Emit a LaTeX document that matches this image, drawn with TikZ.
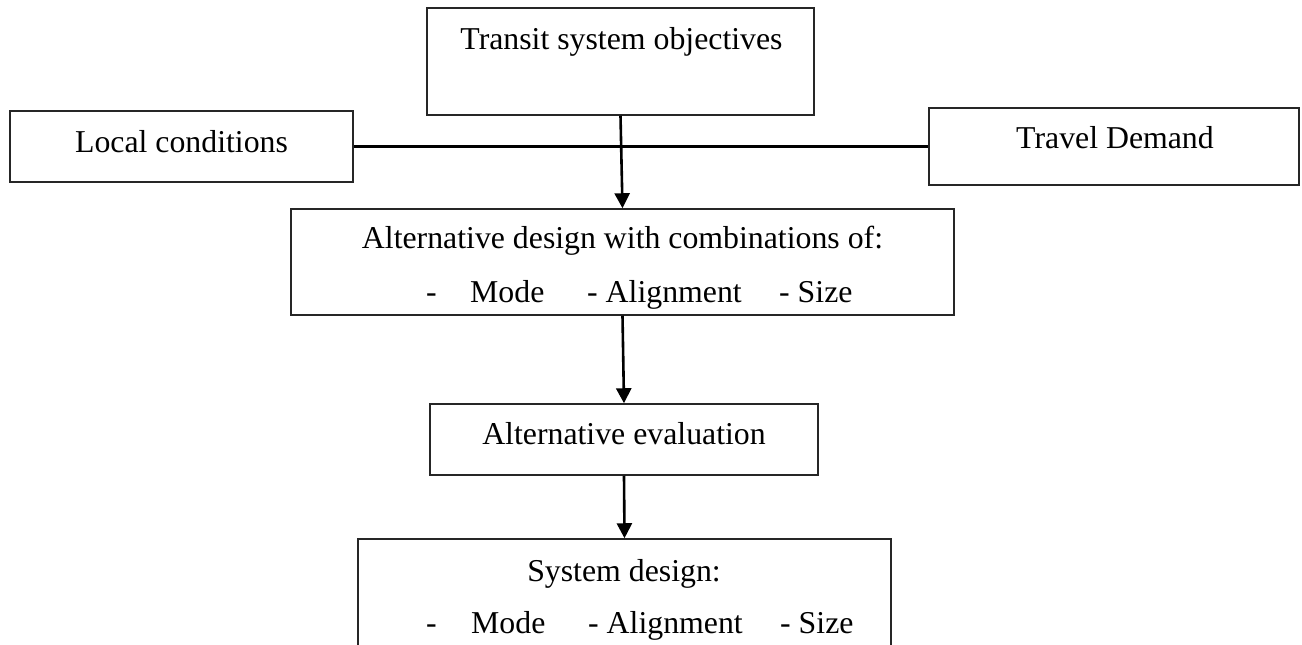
\documentclass[tikz,border=0pt]{standalone}
\usepackage{fontspec}
\setmainfont{Liberation Serif}
\usetikzlibrary{arrows.meta}
\begin{document}
\begin{tikzpicture}[x=1pt,y=-1pt,
  boxnode/.style={draw=black!85,line width=1.5pt,rectangle,inner sep=0pt,fill=none},
  txt/.style={inner sep=0pt,font=\fontsize{31.8}{52}\selectfont,anchor=base},
  txtw/.style={inner sep=0pt,font=\fontsize{31.8}{52}\selectfont,anchor=base west},
  conn/.style={line width=2.6pt,-{Triangle[width=15pt,length=15pt]}},
  plainline/.style={line width=2.8pt}]
\useasboundingbox (0,0) rectangle (1302,645);
\begin{scope}
\clip (0,0) rectangle (1302,645);
% boxes
\node[boxnode,minimum width=387pt,minimum height=107pt] (tso) at (620.5,61.5) {};
\node[boxnode,minimum width=343pt,minimum height=71pt] (lc) at (181.5,146.5) {};
\node[boxnode,minimum width=370pt,minimum height=77pt] (td) at (1114,146.5) {};
\node[boxnode,minimum width=663pt,minimum height=106pt] (ad) at (622.5,262) {};
\node[boxnode,minimum width=388pt,minimum height=71pt] (ev) at (624,439.5) {};
\node[boxnode,minimum width=533pt,minimum height=161pt] (sd) at (624.5,619.5) {};
% texts
\node[txt] (tsot) at (621.5,49) {Transit system objectives};
\node[txt] (lct) at (181.5,152) {Local conditions};
\node[txt] (tdt) at (1115,148) {Travel Demand};
\node[txt] (adt) at (622.5,248) {Alternative design with combinations of:};
\node[txtw] (ad1) at (426,302) {-};
\node[txtw] (ad2) at (470,302) {Mode};
\node[txtw] (ad3) at (587,302) {- Alignment};
\node[txtw] (ad4) at (779,302) {- Size};
\node[txt] (evt) at (624,444) {Alternative evaluation};
\node[txt] (sdt) at (624,581) {System design:};
\node[txtw] (sd1) at (426,633) {-};
\node[txtw] (sd2) at (471,633) {Mode};
\node[txtw] (sd3) at (588,633) {- Alignment};
\node[txtw] (sd4) at (780,633) {- Size};
% connectors
\draw[plainline] (lc.east) -- (td.west);
\draw[conn] (tso.south) -- (ad.north);
\draw[conn] (ad.south) -- (ev.north);
\draw[conn] (ev.south) -- (sd.north);
\end{scope}
\end{tikzpicture}
\end{document}
